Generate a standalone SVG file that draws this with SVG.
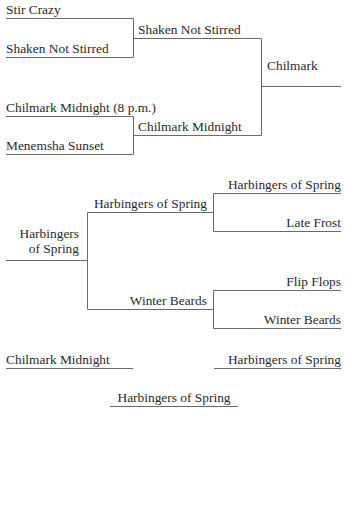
<svg xmlns="http://www.w3.org/2000/svg" width="348" height="530" viewBox="0 0 348 530">
<style>
text{font-family:"Liberation Serif","Times New Roman",serif;font-size:13.4px;fill:#2a2a2a}
.r{text-anchor:end}
.m{text-anchor:middle}
.c{fill:none;stroke:#6a6a6a;stroke-width:1}
</style>
<rect width="348" height="530" fill="#fff"/>
<g id="connectors" class="c">
<path d="M6 18.5H133.5V57.5H6"/>
<path d="M133.5 38.5H261.5"/>
<path d="M6 116.5H133.5V154.5H6"/>
<path d="M133.5 135.5H261.5"/>
<path d="M261.5 38.5V135.5"/>
<path d="M261.5 86.5H341"/>
<path d="M341 193.5H213.5V231.5H341"/>
<path d="M213.5 212.5H87.5"/>
<path d="M341 290.5H213.5V328.5H341"/>
<path d="M213.5 309.5H87.5"/>
<path d="M87.5 212.5V309.5"/>
<path d="M87.5 260.5H6"/>
<path d="M6 368.5H133"/>
<path d="M214 368.5H341"/>
<path d="M110 406.5H238"/>
</g>
<g id="n-stir-crazy"><text x="6" y="14">Stir Crazy</text></g>
<g id="n-shaken-1"><text x="6" y="53">Shaken Not Stirred</text></g>
<g id="n-shaken-2"><text x="138" y="34">Shaken Not Stirred</text></g>
<g id="n-chilmark"><text x="267" y="70">Chilmark</text></g>
<g id="n-cm-8pm"><text x="6" y="112">Chilmark Midnight (8 p.m.)</text></g>
<g id="n-cm-2"><text x="138" y="131">Chilmark Midnight</text></g>
<g id="n-menemsha"><text x="6" y="150">Menemsha Sunset</text></g>
<g id="n-hos-r1"><text class="r" x="341" y="189">Harbingers of Spring</text></g>
<g id="n-late-frost"><text class="r" x="341" y="227">Late Frost</text></g>
<g id="n-hos-r2"><text class="r" x="207" y="208">Harbingers of Spring</text></g>
<g id="n-hos-final"><text class="r" x="79" y="238">Harbingers</text><text class="r" x="79" y="253">of Spring</text></g>
<g id="n-flip-flops"><text class="r" x="341" y="286">Flip Flops</text></g>
<g id="n-wb-r2"><text class="r" x="207" y="305">Winter Beards</text></g>
<g id="n-wb-r1"><text class="r" x="341" y="324">Winter Beards</text></g>
<g id="n-cm-bottom"><text x="6" y="364">Chilmark Midnight</text></g>
<g id="n-hos-bottom"><text class="r" x="341" y="364">Harbingers of Spring</text></g>
<g id="n-champion"><text class="m" x="174" y="402">Harbingers of Spring</text></g>
</svg>
